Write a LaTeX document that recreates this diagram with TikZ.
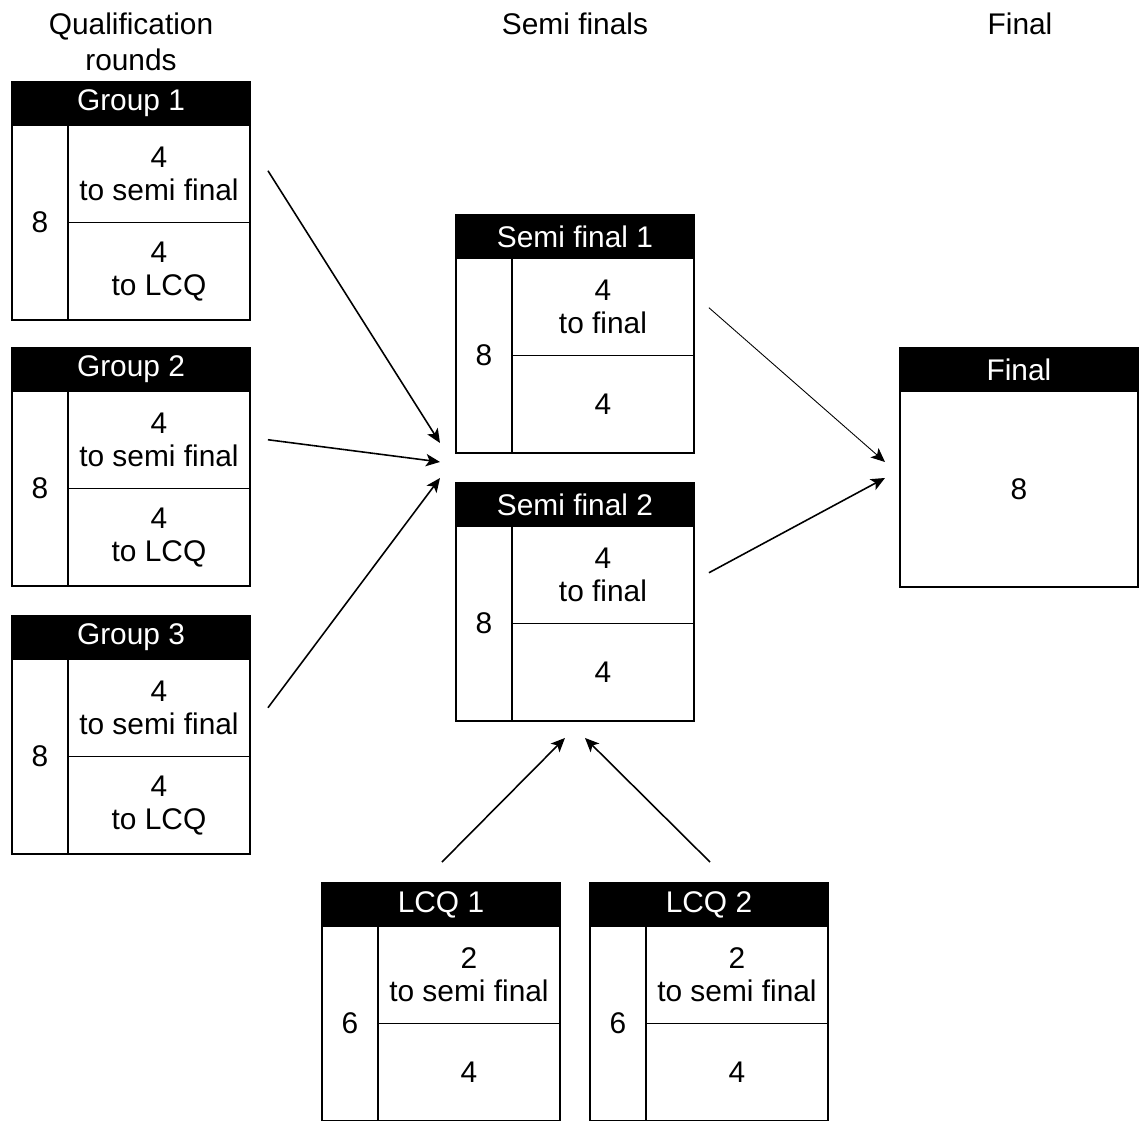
\documentclass[tikz,border=0pt]{standalone}
\usepackage{fontspec}
\setmainfont{Liberation Sans}
\usetikzlibrary{calc,arrows.meta,positioning}
\tikzset{
  boxfont/.style={font=\fontsize{17}{18.7}\selectfont},
  headbox/.style={boxfont,fill=black,draw=black,text=white,line width=.9pt,minimum width=4.76cm,minimum height=.86cm,inner sep=0pt,outer sep=0pt},
  leftcell/.style={boxfont,draw=black,line width=.9pt,minimum width=1.12cm,minimum height=3.9cm,inner sep=0pt,outer sep=0pt},
  cell/.style={boxfont,draw=black,line width=.9pt,align=center,minimum width=3.64cm,minimum height=1.95cm,inner sep=0pt,outer sep=0pt},
  bigcell/.style={boxfont,draw=black,line width=.9pt,minimum width=4.76cm,minimum height=3.92cm,inner sep=0pt,outer sep=0pt},
  stagehead/.style={font=\fontsize{17}{20.5}\selectfont,align=center,anchor=north},
  adv/.style={-{Stealth[length=8pt,width=7pt,inset=2pt]},line width=.9pt},
  advthin/.style={adv,line width=.5pt}
}
\newcommand{\stagebox}[7]{\node[headbox,anchor=north west] (#1) at (#2,#3) {#4};
\node[leftcell,anchor=north west] (#1-n) at (#1.south west) {#5};
\node[cell,anchor=north west] (#1-a) at (#1-n.north east) {#6};
\node[cell,anchor=north west] (#1-b) at (#1-a.south west) {#7};}

\begin{document}
\begin{tikzpicture}[x=0.02cm,y=-0.02cm]
\useasboundingbox (0,0) rectangle (1139,1120);
\node[stagehead] (h-qual) at (131,7) {Qualification\\rounds};
\node[stagehead] (h-semi) at (575,7) {Semi finals};
\node[stagehead] (h-final) at (1020,7) {Final};
\stagebox{g1}{12}{82}{Group 1}{8}{4\\to semi final}{4\\to LCQ}
\stagebox{g2}{12}{348}{Group 2}{8}{4\\to semi final}{4\\to LCQ}
\stagebox{g3}{12}{616}{Group 3}{8}{4\\to semi final}{4\\to LCQ}
\stagebox{sf1}{456}{215}{Semi final 1}{8}{4\\to final}{4}
\stagebox{sf2}{456}{483}{Semi final 2}{8}{4\\to final}{4}
\stagebox{lcq1}{322}{883}{LCQ 1}{6}{2\\to semi final}{4}
\stagebox{lcq2}{590}{883}{LCQ 2}{6}{2\\to semi final}{4}
\node[headbox,anchor=north west] (fin) at (900,348) {Final};
\node[bigcell,anchor=north west] (fin-c) at (fin.south west) {8};
\coordinate (sf-in1) at ($(sf1-n.south west)+(-16,-10)$);\coordinate (sf-in2) at ($(sf1-n.south west)+(-16,9)$);\coordinate (sf-in3) at ($(sf2.north west)+(-16,-5)$);
\coordinate (fin-in1) at ($(fin-c.west)+(-15,-27)$);\coordinate (fin-in2) at ($(fin-c.west)+(-15,-11)$);
\coordinate (sf2-bot) at ($(sf2-n.south west)!.5!(sf2-b.south east)$);
\coordinate (lcq-in1) at ($(sf2-bot)+(-10,17)$);\coordinate (lcq-in2) at ($(sf2-bot)+(10,17)$);
\draw[adv] ($(g1-a.east)+(18,-3)$) -- (sf-in1);\draw[adv] ($(g2-a.east)+(18,0)$) -- (sf-in2);\draw[adv] ($(g3-a.east)+(18,0)$) -- (sf-in3);
\draw[advthin] ($(sf1-a.east)+(15,1)$) -- (fin-in1);\draw[adv] ($(sf2-a.east)+(15,-2)$) -- (fin-in2);
\draw[adv] ($(lcq1.north)+(1,-21)$) -- (lcq-in1);\draw[adv] ($(lcq2.north)+(1,-21)$) -- (lcq-in2);
\end{tikzpicture}
\end{document}
